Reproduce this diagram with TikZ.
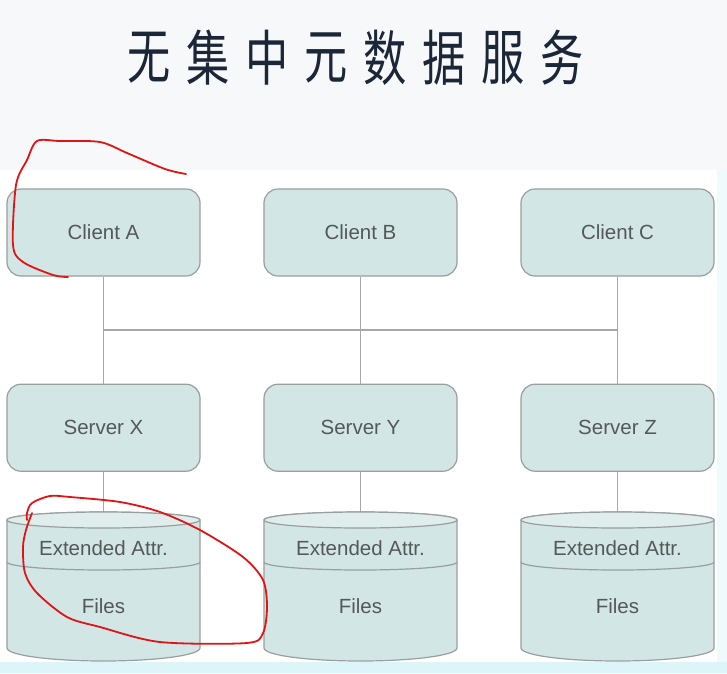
\documentclass[tikz,border=0pt]{standalone}
\usepackage{fontspec}
\setmainfont{Liberation Sans}
\newfontfamily\cjk{Noto Sans CJK SC}
\usetikzlibrary{positioning, calc}
\definecolor{boxfill}{HTML}{D2E6E6}
\definecolor{boxline}{HTML}{9A9E9E}
\definecolor{wire}{HTML}{A8A8A8}
\definecolor{txt}{HTML}{555858}
\definecolor{ink}{HTML}{E01414}
\definecolor{navy}{HTML}{1B2638}
\definecolor{slide}{HTML}{F7F8F9}
\definecolor{sea}{HTML}{DDF5F8}
\tikzset{
  box/.style={draw=boxline, line width=1.2pt, fill=boxfill, rounded corners=14pt,
    minimum width=193pt, minimum height=87pt, text=txt, font=\fontsize{20.5}{24}\selectfont},
  cyl/.style={draw=boxline, line width=1.2pt, fill=boxfill},
  lbl/.style={text=txt, font=\fontsize{20.5}{24}\selectfont},
  link/.style={draw=wire, line width=1.5pt},
  pen/.style={draw=ink, line width=1.8pt, line cap=round, line join=round},
  title/.style={text=navy, font=\cjk\fontsize{60}{60}\selectfont, xscale=.72},
}

\begin{document}
\begin{tikzpicture}[x=1pt, y=-1pt]
  \useasboundingbox (0,0) rectangle (727,673);
  % slide background
  \fill[slide] (0,0) rectangle (727,673);
  \fill[sea] (0,662) rectangle (727,673);
  \fill[sea!50] (717,170) rectangle (727,662);
  \fill[white] (0,170) rectangle (717,662);

  \foreach \ch [count=\i from 0] in {无,集,中,元,数,据,服,务}
  {
    \node[title] (t\i) at (149+59*\i,58) {\ch};
  }

  \foreach \cx/\s/\cl in {103.5/X/A, 360.5/Y/B, 617.5/Z/C}
  {
    \node[box] (c\cl) at (\cx,232.5) {Client \cl};
    \node[box, below=107pt of c\cl] (s\s) {Server \s};
    \coordinate (b\s) at ($(c\cl.south)!.5!(s\s.north)$);
    \draw[link] (c\cl.south) -- (s\s.north);
    \begin{scope}[shift={(\cx,0)}]
      \coordinate (d\s) at (0,512);
      \draw[link] (s\s.south) -- (d\s);
      \draw[cyl] (-96.5,520) -- (-96.5,648)
        arc[start angle=180, end angle=0, x radius=96.5, y radius=13]
        -- (96.5,520)
        arc[start angle=0, end angle=-180, x radius=96.5, y radius=8] -- cycle;
      \draw[cyl, fill=boxfill!70!white] (0,520) ellipse[x radius=96.5, y radius=8];
      \draw[boxline, line width=1.2pt] (-96.5,562)
        arc[start angle=180, end angle=0, x radius=96.5, y radius=8];
      \node[lbl] (ext\s) at (0,548) {Extended Attr.};
      \node[lbl] (fil\s) at (0,606) {Files};
    \end{scope}
  }
  \draw[link] (bX) -- (bZ);

  % red marks
  \draw[pen] plot[smooth] coordinates {(186,174) (165,169) (127,153) (100,142) (60,141) (37,141)
    (27,160) (16,185) (13,245) (23,262) (53,275) (68,277)};
  \draw[pen] plot[smooth] coordinates {(32,513) (26,530) (23,547) (25,573) (37,593) (67,617)
    (100,627) (160,642) (247,643) (263,633) (267,607) (263,580) (243,557) (200,530)
    (160,512) (120,502) (70,497) (50,496) (32,503) (27,513) (27,520)};
\end{tikzpicture}
\end{document}
